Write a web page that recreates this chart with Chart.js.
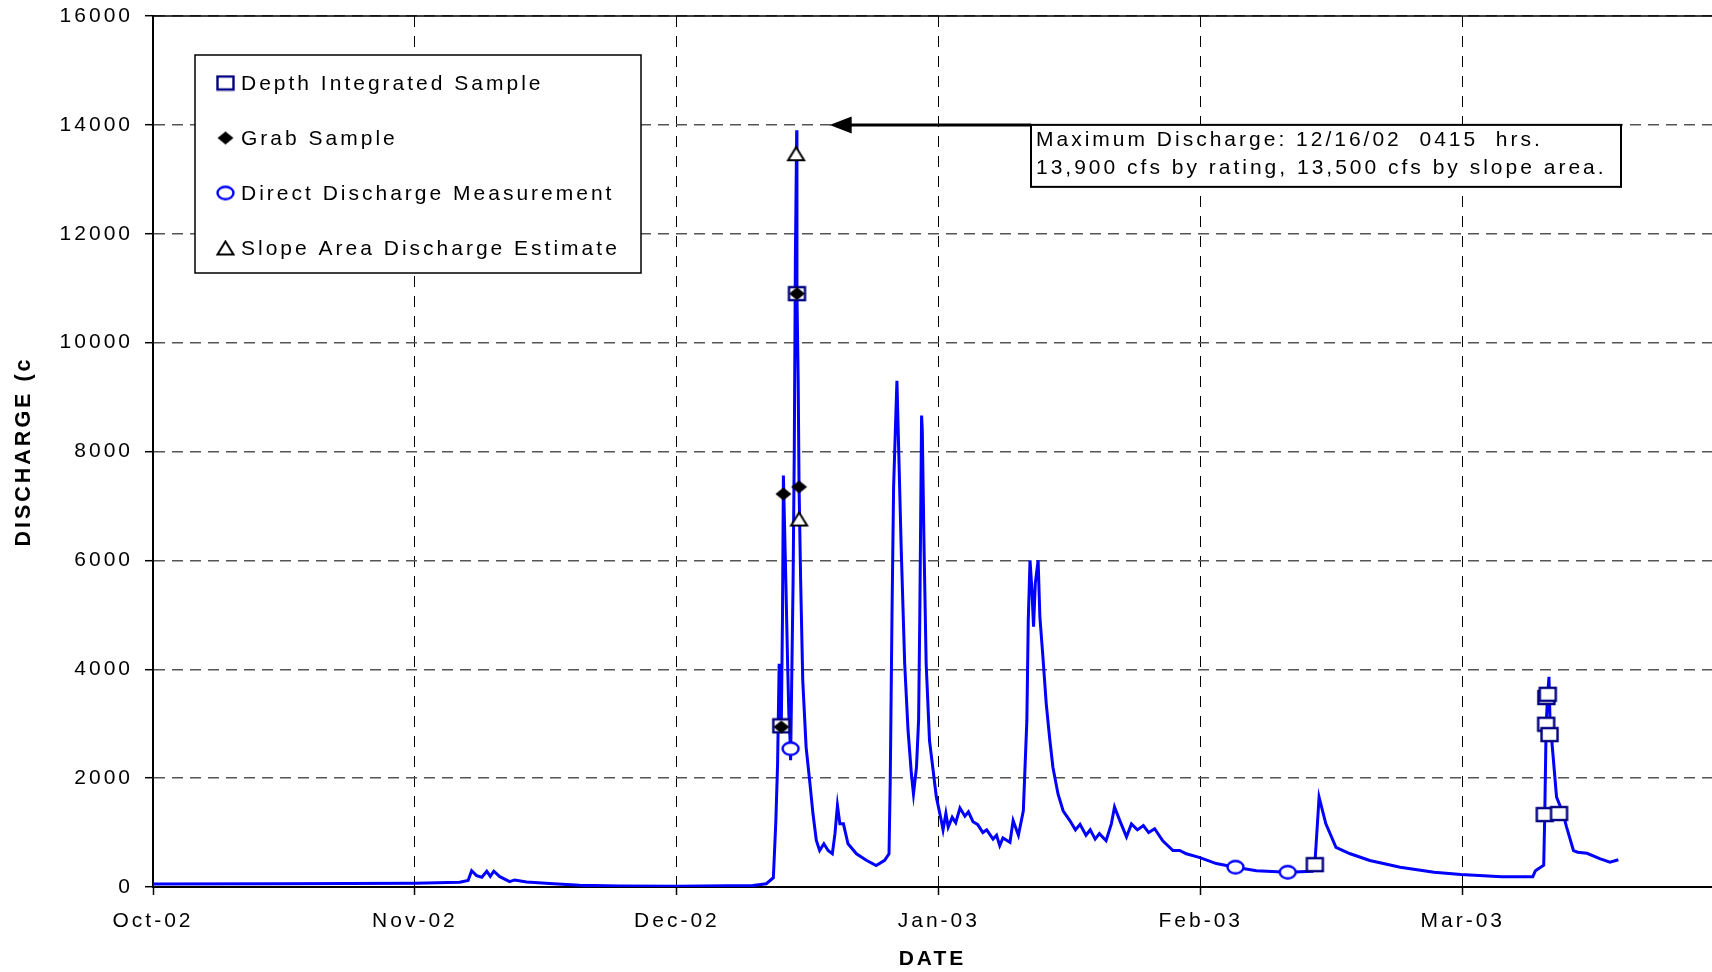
<!DOCTYPE html>
<html>
<head>
<meta charset="utf-8">
<script src="https://cdn.jsdelivr.net/npm/chart.js@4.4.0/dist/chart.umd.min.js"></script>
<style>
html,body{margin:0;padding:0;background:#fff}
#wrap{width:1712px;height:972px}
</style>
</head>
<body>
<div id="wrap"><canvas id="c" width="1712" height="972"></canvas></div>
<script>
const FONT = "'Liberation Sans', Arial, sans-serif";

// x axis: days since 10/1/02, one major unit = 31 days
const tickDays = [0, 31, 62, 93, 124, 155];
const tickLabels = ['Oct-02', 'Nov-02', 'Dec-02', 'Jan-03', 'Feb-03', 'Mar-03'];

// continuous discharge record (cfs)
const flowTimes = [
  '2002-10-01 00:00','2002-10-16 00:00','2002-11-01 00:00','2002-11-06 07:00','2002-11-07 07:00',
  '2002-11-07 17:00','2002-11-08 07:00','2002-11-08 22:00','2002-11-09 12:00','2002-11-09 22:00',
  '2002-11-10 08:00','2002-11-11 01:00','2002-11-12 05:00','2002-11-12 19:00','2002-11-14 05:00',
  '2002-11-17 10:00','2002-11-20 12:00','2002-11-25 06:00','2002-12-02 00:00','2002-12-11 00:00',
  '2002-12-12 14:00','2002-12-13 10:00','2002-12-13 17:00','2002-12-13 22:00','2002-12-14 02:30',
  '2002-12-14 07:00','2002-12-14 08:30','2002-12-14 12:00','2002-12-14 14:30','2002-12-14 21:30',
  '2002-12-15 02:30','2002-12-15 06:00','2002-12-15 09:30','2002-12-15 11:00','2002-12-15 18:00',
  '2002-12-15 21:30','2002-12-16 00:30','2002-12-16 04:15','2002-12-16 05:00','2002-12-16 08:30',
  '2002-12-16 11:00','2002-12-16 15:30','2002-12-16 21:30','2002-12-17 07:00','2002-12-17 17:00',
  '2002-12-18 02:30','2002-12-18 12:00','2002-12-18 21:30','2002-12-19 09:30','2002-12-19 21:30',
  '2002-12-20 09:30','2002-12-20 17:00','2002-12-21 00:00','2002-12-21 07:00','2002-12-21 17:00',
  '2002-12-22 06:00','2002-12-23 06:00','2002-12-24 10:00','2002-12-25 14:00','2002-12-26 14:00',
  '2002-12-27 02:30','2002-12-27 06:00','2002-12-27 11:00','2002-12-27 15:30','2002-12-27 20:30',
  '2002-12-28 01:00','2002-12-28 07:00','2002-12-28 13:00','2002-12-28 23:00','2002-12-29 08:30',
  '2002-12-29 18:00','2002-12-30 00:00','2002-12-30 08:30','2002-12-30 14:30','2002-12-30 18:00',
  '2002-12-30 23:00','2002-12-31 01:00','2002-12-31 06:00','2002-12-31 12:00','2002-12-31 21:30',
  '2003-01-01 17:00','2003-01-02 07:00','2003-01-02 12:00','2003-01-02 20:00','2003-01-03 02:30',
  '2003-01-03 14:00','2003-01-04 00:00','2003-01-04 12:00','2003-01-05 02:00','2003-01-05 12:00',
  '2003-01-06 01:00','2003-01-06 14:00','2003-01-07 05:00','2003-01-07 16:00','2003-01-08 10:00',
  '2003-01-08 20:00','2003-01-09 05:00','2003-01-09 14:00','2003-01-10 10:00','2003-01-10 19:00',
  '2003-01-11 10:00','2003-01-12 00:00','2003-01-12 10:00','2003-01-12 14:00','2003-01-12 19:00',
  '2003-01-13 00:00','2003-01-13 05:00','2003-01-13 10:00','2003-01-13 18:00','2003-01-13 23:00',
  '2003-01-14 07:00','2003-01-14 17:00','2003-01-15 02:30','2003-01-15 12:00','2003-01-16 02:30',
  '2003-01-16 17:00','2003-01-17 12:00','2003-01-18 04:00','2003-01-18 17:00','2003-01-19 10:00',
  '2003-01-19 22:00','2003-01-20 12:00','2003-01-21 00:00','2003-01-21 19:00','2003-01-22 10:00',
  '2003-01-22 19:00','2003-01-23 10:00','2003-01-24 05:00','2003-01-24 19:00','2003-01-25 12:00',
  '2003-01-26 05:00','2003-01-26 20:00','2003-01-27 13:00','2003-01-28 12:00','2003-01-29 17:00',
  '2003-01-30 12:00','2003-01-31 07:00','2003-02-01 21:30','2003-02-03 20:00','2003-02-06 02:30',
  '2003-02-08 14:00','2003-02-12 07:00','2003-02-15 05:00','2003-02-15 12:00','2003-02-16 00:00',
  '2003-02-16 19:00','2003-02-18 00:00','2003-02-19 14:30','2003-02-22 00:00','2003-02-25 14:30',
  '2003-03-01 14:30','2003-03-04 19:00','2003-03-09 14:30','2003-03-13 07:00','2003-03-13 14:30',
  '2003-03-14 00:00','2003-03-14 14:00','2003-03-14 17:00','2003-03-14 21:00','2003-03-15 01:30',
  '2003-03-15 05:00','2003-03-15 08:30','2003-03-15 12:00','2003-03-16 02:30','2003-03-16 21:00',
  '2003-03-17 07:00','2003-03-18 02:30','2003-03-18 14:30','2003-03-19 17:00','2003-03-21 05:00',
  '2003-03-22 10:00','2003-03-23 10:00'
];
const flowCfs = [
  55, 60, 70, 88, 120,
  300, 210, 180, 290, 195,
  290, 190, 100, 130, 90,
  60, 30, 18, 15, 28,
  60, 170, 1200, 2260, 4100,
  3790, 2940, 5000, 7560, 5600,
  4100, 3180, 2690, 2330, 5600,
  8080, 11500, 13900, 10900, 9300,
  7340, 5630, 3790, 2570, 1960,
  1345, 855, 670, 795, 670,
  610, 980, 1500, 1160, 1160,
  795, 610, 490, 395, 490,
  610, 1960, 5020, 7340, 8390,
  9300, 7770, 6240, 4100, 2880,
  2080, 1710, 2200, 3060, 5020,
  8660, 8390, 6240, 4100, 2690,
  1650, 1220, 1050, 1350, 1100,
  1280, 1180, 1450, 1300, 1380,
  1200, 1150, 1000, 1050, 880,
  950, 760, 900, 820, 1220,
  950, 1400, 3060, 4900, 6000,
  5500, 4780, 5580, 6000, 4960,
  4280, 3370, 2750, 2200, 1710,
  1400, 1220, 1050, 1150, 950,
  1050, 880, 980, 850, 1160,
  1470, 1220, 920, 1160, 1050,
  1130, 1000, 1070, 850, 670,
  670, 610, 540, 430, 364,
  300, 272, 290, 420, 1650,
  1165, 730, 615, 487, 364,
  272, 230, 190, 190, 300,
  340, 400, 1330, 3000, 3550,
  3860, 2900, 2760, 1650, 1350,
  1100, 670, 640, 620, 520,
  455, 500
];

// sample and measurement points
const depthTimes = ['2002-12-14 08:30','2002-12-16 05:00','2003-02-15 12:00','2003-03-14 17:00',
  '2003-03-14 21:00','2003-03-14 21:30','2003-03-15 01:30','2003-03-15 06:30','2003-03-16 09:30'];
const depthCfs = [2960, 10900, 410, 1330, 2990, 3480, 3540, 2800, 1350];
const grabTimes = ['2002-12-14 08:30','2002-12-14 14:30','2002-12-16 05:00','2002-12-16 11:00'];
const grabCfs = [2940, 7220, 10900, 7350];
const directTimes = ['2002-12-15 11:00','2003-02-06 02:30','2003-02-12 07:00'];
const directCfs = [2540, 364, 272];
const slopeTimes = ['2002-12-16 02:30','2002-12-16 11:00'];
const slopeCfs = [13470, 6760];

const legendLabels = ['Depth Integrated Sample', 'Grab Sample', 'Direct Discharge Measurement', 'Slope Area Discharge Estimate'];
const noteLines = ['Maximum Discharge: 12/16/02  0415  hrs.', '13,900 cfs by rating, 13,500 cfs by slope area.'];
const peakTime = '2002-12-16 04:15';
const peakArrowCfs = 14000;

function dayOf(s) {
  const [d, t] = s.split(' ');
  const [yy, mm, dd] = d.split('-').map(Number);
  const [hh, mi] = t.split(':').map(Number);
  return (Date.UTC(yy, mm - 1, dd, hh, mi) - Date.UTC(2002, 9, 1)) / 86400000;
}
function pts(times, vals) { return times.map((t, i) => ({x: dayOf(t), y: vals[i]})); }

// marker glyphs (Excel style, slightly wide)
function marker(kind) {
  const c = document.createElement('canvas');
  c.width = 21; c.height = 17;
  const g = c.getContext('2d');
  const cx = 10.5, cy = 8.5;
  g.lineWidth = 2.4;
  if (kind === 'square') {
    g.fillStyle = '#fff'; g.strokeStyle = '#000080';
    g.fillRect(cx - 8, cy - 6.5, 16, 13); g.strokeRect(cx - 8, cy - 6.5, 16, 13);
  } else if (kind === 'diamond') {
    g.fillStyle = '#000';
    g.beginPath(); g.moveTo(cx, cy - 6.5); g.lineTo(cx + 8, cy); g.lineTo(cx, cy + 6.5); g.lineTo(cx - 8, cy); g.closePath(); g.fill();
  } else if (kind === 'circle') {
    g.fillStyle = '#fff'; g.strokeStyle = '#0000ff';
    g.beginPath(); g.ellipse(cx, cy, 8, 6.2, 0, 0, Math.PI * 2); g.fill(); g.stroke();
  } else {
    g.fillStyle = '#fff'; g.strokeStyle = '#000'; g.lineWidth = 2;
    g.beginPath(); g.moveTo(cx, cy - 6.5); g.lineTo(cx + 8, cy + 6.5); g.lineTo(cx - 8, cy + 6.5); g.closePath(); g.fill(); g.stroke();
  }
  return c;
}
const markSquare = marker('square'), markDiamond = marker('diamond'), markCircle = marker('circle'), markTriangle = marker('triangle');
const legendMarks = [markSquare, markDiamond, markCircle, markTriangle];

const decor = {
  id: 'decor',
  beforeDraw(chart) { chart.ctx.letterSpacing = '3px'; },
  afterDraw(chart) {
    const {ctx, chartArea: a, scales: {x, y}} = chart;
    ctx.save();
    ctx.letterSpacing = '3px';
    // top frame line
    ctx.strokeStyle = '#000'; ctx.lineWidth = 1.5;
    ctx.beginPath(); ctx.moveTo(a.left, a.top); ctx.lineTo(a.right, a.top); ctx.stroke();

    // legend box
    ctx.fillStyle = '#fff'; ctx.fillRect(195, 55, 446, 218);
    ctx.lineWidth = 1.5; ctx.strokeRect(195, 55, 446, 218);
    ctx.font = '21px ' + FONT; ctx.fillStyle = '#000'; ctx.textBaseline = 'middle'; ctx.textAlign = 'left';
    legendLabels.forEach((t, i) => {
      const ry = 83 + i * 55;
      const m = legendMarks[i];
      ctx.drawImage(m, 225.5 - m.width / 2, ry - m.height / 2);
      ctx.fillText(t, 241, ry + 1);
    });

    // annotation arrow + box
    const ay = y.getPixelForValue(peakArrowCfs);
    const tip = x.getPixelForValue(dayOf(peakTime)) + 33;
    const boxL = 1031, boxT = ay, boxW = 590, boxH = 62;
    ctx.strokeStyle = '#000'; ctx.lineWidth = 3;
    ctx.beginPath(); ctx.moveTo(tip + 20, ay); ctx.lineTo(boxL, ay); ctx.stroke();
    ctx.fillStyle = '#000';
    ctx.beginPath(); ctx.moveTo(tip, ay); ctx.lineTo(tip + 22, ay - 8.5); ctx.lineTo(tip + 22, ay + 8.5); ctx.closePath(); ctx.fill();
    ctx.fillStyle = '#fff'; ctx.fillRect(boxL, boxT, boxW, boxH);
    ctx.lineWidth = 2; ctx.strokeRect(boxL, boxT, boxW, boxH);
    ctx.fillStyle = '#000';
    ctx.fillText(noteLines[0], 1036, boxT + 15);
    ctx.fillText(noteLines[1], 1036, boxT + 43);
    ctx.restore();
  }
};

new Chart(document.getElementById('c'), {
  type: 'scatter',
  data: {
    datasets: [
      {label: legendLabels[0], data: pts(depthTimes, depthCfs), pointStyle: markSquare, pointRadius: 8, order: 1},
      {label: legendLabels[1], data: pts(grabTimes, grabCfs), pointStyle: markDiamond, pointRadius: 8, order: 0},
      {label: legendLabels[2], data: pts(directTimes, directCfs), pointStyle: markCircle, pointRadius: 8, order: 2},
      {label: legendLabels[3], data: pts(slopeTimes, slopeCfs), pointStyle: markTriangle, pointRadius: 8, order: 3},
      {label: 'Discharge', data: pts(flowTimes, flowCfs), showLine: true, pointRadius: 0,
       borderColor: '#0000ff', borderWidth: 3, tension: 0, order: 9}
    ]
  },
  options: {
    responsive: false,
    animation: false,
    devicePixelRatio: 1,
    layout: {autoPadding: false, padding: {top: 16, right: 0, bottom: 0, left: 0}},
    plugins: {legend: {display: false}, tooltip: {enabled: false}},
    scales: {
      x: {
        type: 'linear', min: 0, max: 184.5,
        afterBuildTicks: s => { s.ticks = tickDays.map(v => ({value: v})); },
        afterFit: s => { s.height = 85; s.paddingLeft = 0; s.paddingRight = 0; },
        ticks: {
          autoSkip: false, maxRotation: 0, padding: 14, color: '#000',
          font: {family: FONT, size: 21},
          callback: v => { const i = tickDays.indexOf(v); return i < 0 ? '' : tickLabels[i]; }
        },
        grid: {color: '#000', lineWidth: 1, tickLength: 8, tickColor: '#000', tickWidth: 1.5},
        border: {color: '#000', width: 2, dash: [11, 9]},
        title: {display: true, text: 'DATE', color: '#000', font: {family: FONT, size: 21, weight: 'bold'}, padding: {top: 0, bottom: 0}}
      },
      y: {
        min: 0, max: 16000,
        afterFit: s => { s.width = 153; s.paddingTop = 0; s.paddingBottom = 0; },
        ticks: {stepSize: 2000, padding: 12, color: '#000', font: {family: FONT, size: 21}, callback: v => String(v)},
        grid: {color: '#555', lineWidth: 1.4, tickLength: 8, tickColor: '#000', tickWidth: 1.5},
        border: {color: '#000', width: 2, dash: [11, 7]},
        title: {display: true, text: 'DISCHARGE (c', color: '#000', font: {family: FONT, size: 21.5, weight: 'bold'}, padding: {top: 11, bottom: 0}}
      }
    }
  },
  plugins: [decor]
});
</script>
</body>
</html>
